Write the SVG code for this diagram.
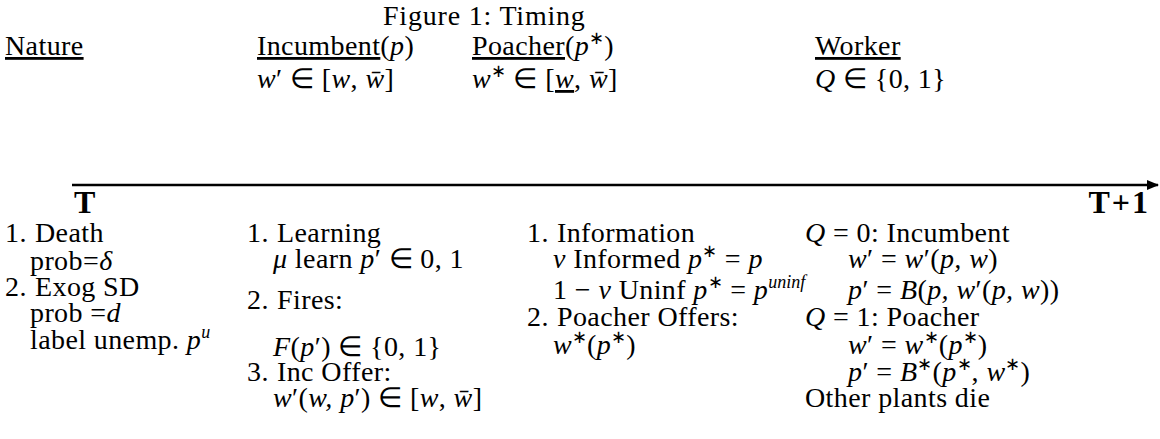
<svg xmlns="http://www.w3.org/2000/svg" width="1160" height="439" viewBox="0 0 1160 439">
<style>
text{font-family:"Liberation Serif","Times New Roman",serif;font-size:28px;letter-spacing:0.4px;fill:#000}
.cap{font-size:28px;letter-spacing:0.8px}
.i{font-style:italic}
.b{font-weight:bold;font-size:32px;letter-spacing:2px}
.u{text-decoration:underline}
.s{font-size:18px;letter-spacing:0}
</style>
<defs>
<marker id="ah" viewBox="0 0 10 10" refX="9" refY="5" markerWidth="5" markerHeight="5" orient="auto" markerUnits="strokeWidth"><path d="M0,1 L10,5 L0,9 z" fill="#000"/></marker>
</defs>
<rect width="1160" height="439" fill="#fff"/>
<text id="title" class="cap" x="383" y="25">Figure 1:  Timing</text>
<g id="nature">
<text x="5" y="55" class="u">Nature</text>
<text x="5" y="242">1.</text><text x="35" y="242">Death</text>
<text x="30" y="270">prob=<tspan class="i">δ</tspan></text>
<text x="5" y="296">2.</text><text x="35" y="296">Exog SD</text>
<text x="30" y="322">prob =<tspan class="i">d</tspan></text>
<text x="30" y="349">label unemp.  <tspan class="i">p</tspan><tspan class="i s" dy="-11">u</tspan></text>
</g>
<g id="incumbent">
<text x="257" y="55"><tspan class="u">Incumbent</tspan>(<tspan class="i">p</tspan>)</text>
<text x="257" y="88"><tspan class="i">w</tspan>′ ∈ [<tspan class="i">w</tspan>, <tspan class="i">w̄</tspan>]</text>
<text x="247" y="242">1.</text><text x="277" y="242">Learning</text>
<text x="273" y="268"><tspan class="i">μ</tspan> learn <tspan class="i">p</tspan>′ ∈ 0, 1</text>
<text x="247" y="309">2.</text><text x="277" y="309">Fires:</text>
<text x="273" y="356"><tspan class="i">F</tspan>(<tspan class="i">p</tspan>′) ∈ {0, 1}</text>
<text x="247" y="381">3.</text><text x="277" y="381">Inc Offer:</text>
<text x="273" y="407"><tspan class="i">w</tspan>′(<tspan class="i">w, p</tspan>′) ∈ [<tspan class="i">w</tspan>, <tspan class="i">w̄</tspan>]</text>
</g>
<g id="poacher">
<text x="472" y="55"><tspan class="u">Poacher</tspan>(<tspan class="i">p</tspan><tspan class="s" dy="-11">∗</tspan><tspan dy="11">)</tspan></text>
<text x="472" y="88"><tspan class="i">w</tspan><tspan class="s" dy="-11">∗</tspan><tspan dy="11"> ∈ [</tspan><tspan class="i u">w</tspan>, <tspan class="i">w̄</tspan>]</text>
<text x="527" y="242">1.</text><text x="557" y="242">Information</text>
<text x="553" y="268"><tspan class="i">ν</tspan> Informed <tspan class="i">p</tspan><tspan class="s" dy="-11">∗</tspan><tspan dy="11"> = </tspan><tspan class="i">p</tspan></text>
<text x="553" y="299">1 − <tspan class="i">ν</tspan> Uninf <tspan class="i">p</tspan><tspan class="s" dy="-11">∗</tspan><tspan dy="11"> = </tspan><tspan class="i">p</tspan><tspan class="i s" dy="-11">uninf</tspan></text>
<text x="527" y="326">2.</text><text x="557" y="326">Poacher Offers:</text>
<text x="553" y="354"><tspan class="i">w</tspan><tspan class="s" dy="-11">∗</tspan><tspan dy="11">(</tspan><tspan class="i">p</tspan><tspan class="s" dy="-11">∗</tspan><tspan dy="11">)</tspan></text>
</g>
<g id="worker">
<text x="815" y="55" class="u">Worker</text>
<text x="815" y="88"><tspan class="i">Q</tspan> ∈ {0, 1}</text>
<text x="805" y="242"><tspan class="i">Q</tspan> = 0: Incumbent</text>
<text x="848" y="268"><tspan class="i">w</tspan>′ = <tspan class="i">w</tspan>′(<tspan class="i">p, w</tspan>)</text>
<text x="848" y="299"><tspan class="i">p</tspan>′ = <tspan class="i">B</tspan>(<tspan class="i">p, w</tspan>′(<tspan class="i">p, w</tspan>))</text>
<text x="805" y="326"><tspan class="i">Q</tspan> = 1: Poacher</text>
<text x="848" y="354"><tspan class="i">w</tspan>′ = <tspan class="i">w</tspan><tspan class="s" dy="-11">∗</tspan><tspan dy="11">(</tspan><tspan class="i">p</tspan><tspan class="s" dy="-11">∗</tspan><tspan dy="11">)</tspan></text>
<text x="848" y="381"><tspan class="i">p</tspan>′ = <tspan class="i">B</tspan><tspan class="s" dy="-11">∗</tspan><tspan dy="11">(</tspan><tspan class="i">p</tspan><tspan class="s" dy="-11">∗</tspan><tspan dy="11">, </tspan><tspan class="i">w</tspan><tspan class="s" dy="-11">∗</tspan><tspan dy="11">)</tspan></text>
<text x="805" y="407">Other plants die</text>
</g>
<g id="connectors">
<line x1="72" y1="185" x2="1158" y2="185" stroke="#000" stroke-width="2.5" marker-end="url(#ah)"/>
<text x="74" y="213" class="b">T</text>
<text x="1150" y="213" class="b" text-anchor="end">T+1</text>
</g>
</svg>
